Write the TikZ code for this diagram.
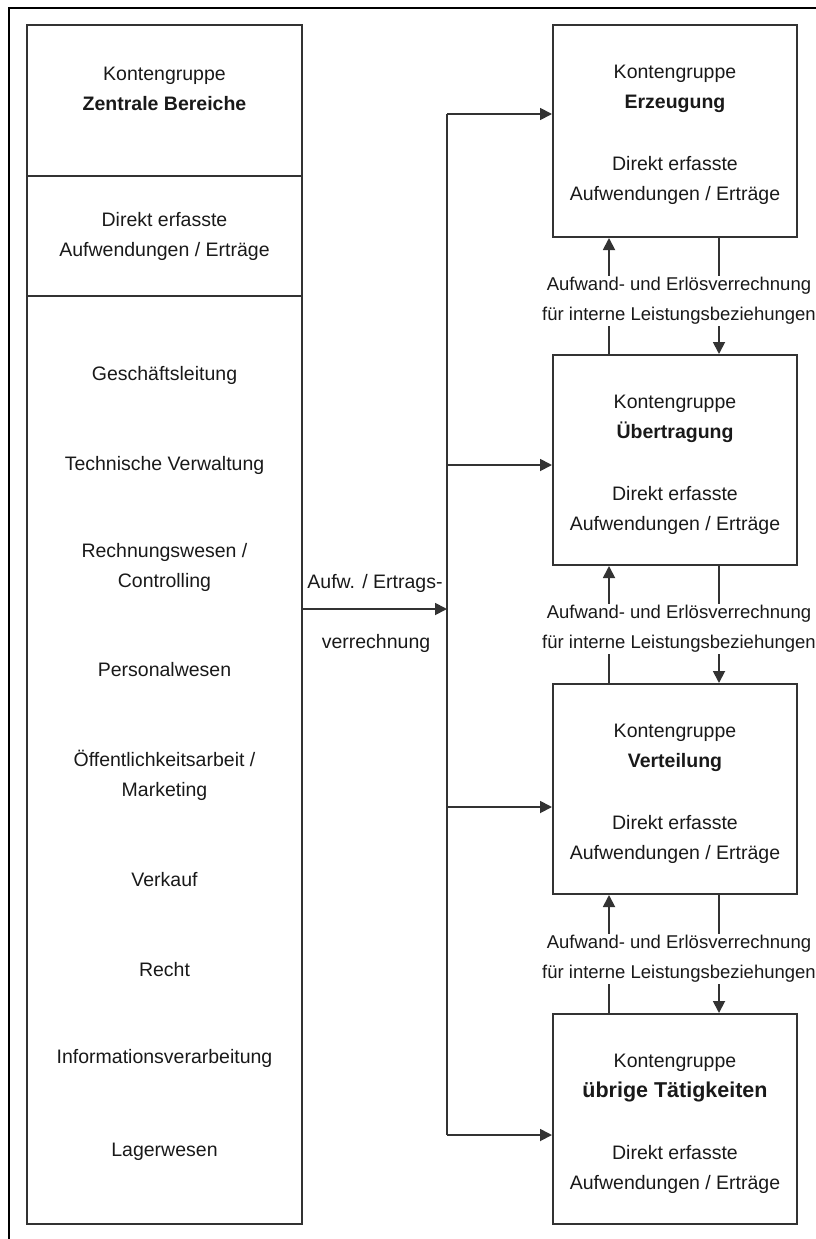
\documentclass[tikz,border=0pt]{standalone}
\usepackage{fontspec}
\setmainfont{Liberation Sans}
\usetikzlibrary{arrows.meta}

\begin{document}
\begin{tikzpicture}[
							x=1pt, y=-1pt,
							every node/.style={font=\fontsize{19.5}{30}\selectfont, text=black!90},
							cell/.style={draw=black!80, line width=2pt, minimum width=275pt, inner sep=0pt, align=center},
							groupBox/.style={draw=black!80, line width=2pt, minimum width=244pt, minimum height=210pt, inner sep=0pt, align=center},
							busLine/.style={draw=black!80, line width=1.8pt},
							arrLine/.style={draw=black!80, line width=1.8pt, -{Triangle[length=12pt,width=12pt]}},
							linkLabel/.style={fill=white, inner sep=1pt, align=center, font=\fontsize{18.5}{30}\selectfont}
						]
						\useasboundingbox (0,0) rectangle (816,1239);
						\draw [line width=2.2pt, black] (9,1239) -- (9,8) -- (816,8);
						
						\node[cell, minimum height=151pt] (zbHead) at (164.5,100.5) {};
						\node[align=center] (zbHeadText) at (164.5,89) {Kontengruppe\\ \textbf{Zentrale Bereiche}};
						\node[cell, minimum height=120pt] (zbDirect) at (164.5,236) {Direkt erfasste\\ Aufwendungen / Erträge};
						\node[cell, minimum height=928pt] (zbList) at (164.5,760) {};
						
						\foreach \y/\txt in {375/Geschäftsleitung, 465/Technische Verwaltung, 567/{Rechnungswesen /\\ Controlling}, 670/Personalwesen, 775/{Öffentlichkeitsarbeit /\\ Marketing}, 880/Verkauf, 970/Recht, 1058/Informationsverarbeitung, 1152/Lagerwesen}
							\node[align=center] (area\y) at (164.5,\y) {\txt};
						
						\node[groupBox, minimum height=212pt] (erz) at (675,131) {};
						\node[groupBox] (ueb) at (675,460) {};
						\node[groupBox] (ver) at (675,789) {};
						\node[groupBox] (uebr) at (675,1119) {};
						\node[align=center] (erzText) at (675,135) {Kontengruppe\\ \textbf{Erzeugung}\\[32pt] Direkt erfasste\\ Aufwendungen / Erträge};
						\node[align=center] (uebText) at (675,465) {Kontengruppe\\ \textbf{Übertragung}\\[32pt] Direkt erfasste\\ Aufwendungen / Erträge};
						\node[align=center] (verText) at (675,794) {Kontengruppe\\ \textbf{Verteilung}\\[32pt] Direkt erfasste\\ Aufwendungen / Erträge};
						\node[align=center] (uebrText) at (675,1124) {Kontengruppe\\ {\fontsize{21.5}{30}\selectfont\bfseries übrige Tätigkeiten}\\[32pt] Direkt erfasste\\ Aufwendungen / Erträge};
						
						\coordinate (busTop) at (447,114);
						\coordinate (busUeb) at (447,465);
						\coordinate (busIn) at (447,609);
						\coordinate (busVer) at (447,807);
						\coordinate (busBot) at (447,1135);
						\coordinate (upX) at (609,0);
						\coordinate (downX) at (719,0);
						
						\draw [busLine] (busTop) -- (busBot);
						\draw [arrLine] (busIn -| zbList.east) -- (busIn);
						\draw [arrLine] (busTop) -- (busTop -| erz.west);
						\draw [arrLine] (busUeb) -- (busUeb -| ueb.west);
						\draw [arrLine] (busVer) -- (busVer -| ver.west);
						\draw [arrLine] (busBot) -- (busBot -| uebr.west);
						
						\node (flowTop) at (375,583) {Aufw. / Ertrags-};
						\node (flowBot) at (376,643) {verrechnung};
						
						\draw [arrLine] (ueb.north -| upX) -- (erz.south -| upX);
						\draw [arrLine] (erz.south -| downX) -- (ueb.north -| downX);
						\draw [arrLine] (ver.north -| upX) -- (ueb.south -| upX);
						\draw [arrLine] (ueb.south -| downX) -- (ver.north -| downX);
						\draw [arrLine] (uebr.north -| upX) -- (ver.south -| upX);
						\draw [arrLine] (ver.south -| downX) -- (uebr.north -| downX);
						
						\node[linkLabel] (linkA) at (679,301) {Aufwand- und Erlösverrechnung\\ für interne Leistungsbeziehungen};
						\node[linkLabel] (linkB) at (679,629) {Aufwand- und Erlösverrechnung\\ für interne Leistungsbeziehungen};
						\node[linkLabel] (linkC) at (679,959) {Aufwand- und Erlösverrechnung\\ für interne Leistungsbeziehungen};
					\end{tikzpicture}
\end{document}
